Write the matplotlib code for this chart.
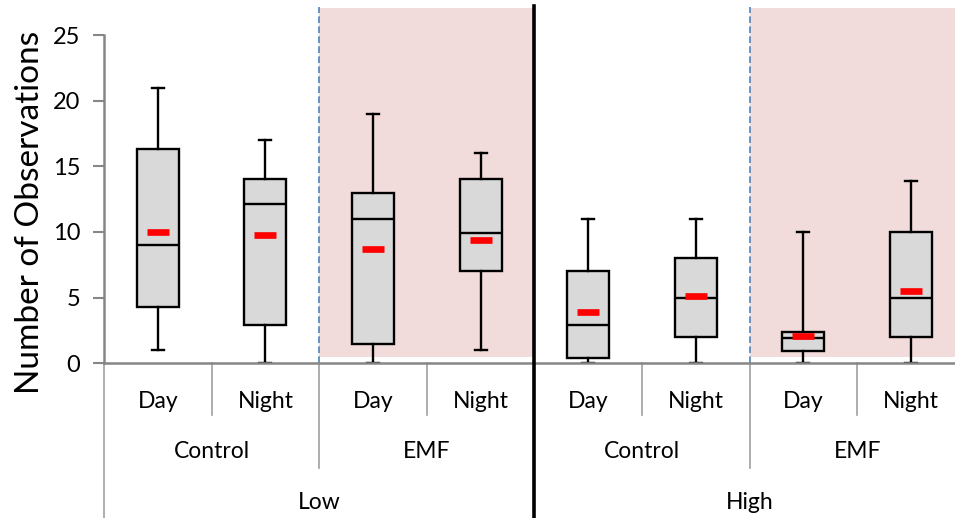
import matplotlib
matplotlib.use("Agg")
import matplotlib.pyplot as plt

# ---- data ----
levels = ["Low", "High"]
treatments = ["Control", "EMF"]
times = ["Day", "Night"]
whislo = [1, 0, 0, 1, 0, 0, 0, 0]
q1 = [4.3, 2.9, 1.5, 7.0, 0.4, 2.0, 0.9, 2.0]
med = [9.0, 12.1, 11.0, 9.9, 2.9, 5.0, 1.9, 5.0]
q3 = [16.3, 14.0, 13.0, 14.0, 7.0, 8.0, 2.4, 10.0]
whishi = [21, 17, 19, 16, 11, 11, 10, 13.9]
means = [10.0, 9.8, 8.7, 9.4, 3.9, 5.1, 2.1, 5.5]
yticks = [0, 5, 10, 15, 20, 25]

plt.rcParams["font.family"] = ["Lato", "DejaVu Sans"]

fig = plt.figure(figsize=(9.55, 5.18), dpi=100)
ax = fig.add_axes([104 / 955, 1 - 363.3 / 518, (955 - 104) / 955, 363.3 / 518])

n = len(med)
pos = list(range(1, n + 1))
stats = []
for i in range(n):
    stats.append(dict(med=med[i], q1=q1[i], q3=q3[i], whislo=whislo[i],
                      whishi=whishi[i], mean=means[i], fliers=[]))

ax.bxp(stats, positions=pos, widths=0.39, patch_artist=True, showmeans=True,
       showfliers=False, capwidths=0.11,
       boxprops=dict(facecolor="#d9d9d9", edgecolor="black", linewidth=1.7),
       medianprops=dict(color="black", linewidth=1.7),
       whiskerprops=dict(color="black", linewidth=1.7),
       capprops=dict(color="black", linewidth=1.7),
       meanprops=dict(marker="_", markeredgecolor="red", markersize=16,
                      markeredgewidth=4.8))

ax.set_xlim(0.5, 0.5 + (955 - 104) / 107.6)
ax.set_ylim(0, 363.3 / 13.13)

# shaded EMF regions
ytop = (363.3 - 8) / 13.13
for g in range(len(levels)):
    x0 = 0.5 + g * 4 + 2
    ax.fill_between([x0, x0 + 2], 0.5, ytop, color="#f2dcdb", zorder=0, linewidth=0)
    ax.plot([x0, x0], [0, (363.3 - 7) / 13.13], color="#4f81bd", linewidth=1.2,
            linestyle=(0, (4, 2)), zorder=1)

# spines / ticks
for s in ["top", "right"]:
    ax.spines[s].set_visible(False)
ax.spines["left"].set_bounds(0, 25)
ax.spines["left"].set_color("#868686")
ax.spines["bottom"].set_color("#868686")
ax.spines["left"].set_linewidth(1.8)
ax.spines["bottom"].set_linewidth(1.8)
ax.set_yticks(yticks)
ax.tick_params(axis="y", length=8, width=1.5, color="#868686", labelsize=17, pad=9)
ax.set_xticks([])

tr = ax.get_xaxis_transform()
gray = "#a0a0a0"
# level-1 separators
for i in range(n):
    x = pos[i] + 0.5
    if i % 2 == 0:
        ax.plot([x, x], [0, -0.143], color=gray, lw=1.2, transform=tr, clip_on=False)
# level-2 separators
for g in range(len(levels)):
    x = 0.5 + g * 4 + 2
    ax.plot([x, x], [0, -0.288], color=gray, lw=1.2, transform=tr, clip_on=False)
# left edge
ax.plot([0.5, 0.5], [0, -0.426], color=gray, lw=1.2, transform=tr, clip_on=False)
# thick divider between levels
ax.plot([4.5, 4.5], [-0.426, (363.3 - 6) / 363.3], color="black", lw=2.6,
        transform=tr, clip_on=False, zorder=5)

# labels
fs = 16.5
for i in range(n):
    ax.text(pos[i], -0.104, times[i % 2], ha="center", va="center",
            fontsize=fs, transform=tr)
for g in range(len(levels)):
    for t in range(len(treatments)):
        xc = 1.5 + g * 4 + t * 2
        ax.text(xc, -0.244, treatments[t], ha="center", va="center",
                fontsize=fs, transform=tr)
    ax.text(2.5 + g * 4, -0.384, levels[g], ha="center", va="center",
            fontsize=fs, transform=tr)

fig.text(30 / 955, 1 - 212 / 518, "Number of Observations", rotation=90,
         ha="center", va="center", fontsize=24)

fig.savefig("out.png", dpi=100)
